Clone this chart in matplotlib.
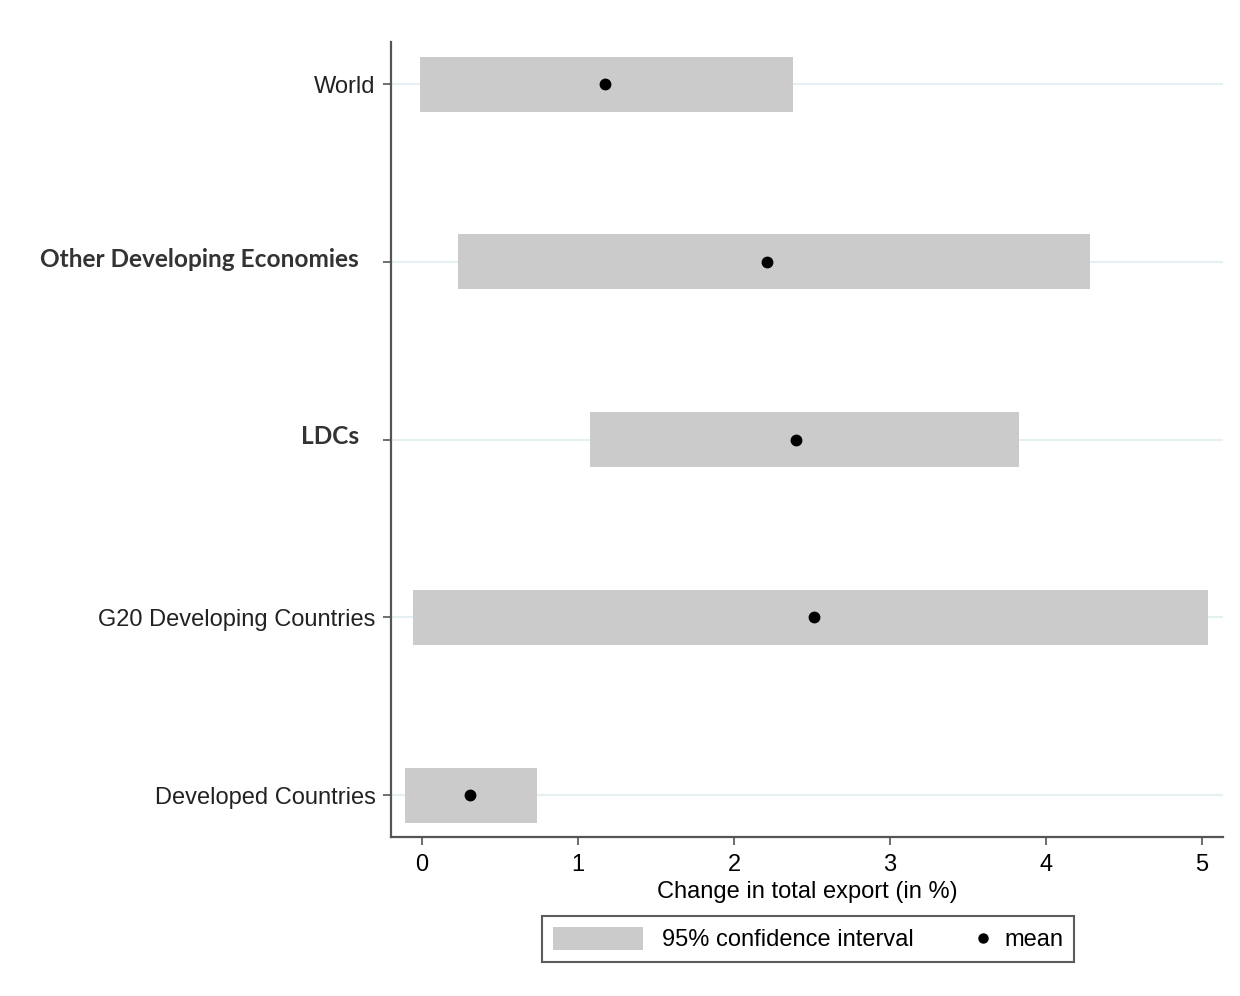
import matplotlib
matplotlib.use("Agg")
import matplotlib.pyplot as plt
from matplotlib.patches import Patch
from matplotlib.lines import Line2D
from matplotlib.legend_handler import HandlerLine2D

# DATA
groups = ["World", "Other Developing Economies", "LDCs",
          "G20 Developing Countries", "Developed Countries"]
ci_low = [-0.01, 0.23, 1.08, -0.06, -0.11]
ci_high = [2.38, 4.28, 3.83, 5.04, 0.74]
means = [1.17, 2.21, 2.40, 2.51, 0.31]
bold_groups = ["Other Developing Economies", "LDCs"]
xticks = [0, 1, 2, 3, 4, 5]

plt.rcParams['font.family'] = ['Liberation Sans', 'DejaVu Sans']

fig = plt.figure(figsize=(12.4, 9.96), dpi=100)
ax = fig.add_axes([0.3153, 0.1596, 0.671, 0.798])

ypos = list(range(len(groups)))
for y in ypos:
    ax.axhline(y, color="#e6f0f2", lw=1.5, zorder=0)

widths = [h - l for l, h in zip(ci_low, ci_high)]
ax.barh(ypos, widths, left=ci_low, height=0.31, color="#cbcbcb", zorder=2)
ax.plot(means, ypos, "o", color="black", markersize=7.5, zorder=3, linestyle="none")

ax.set_xlim(-0.199, 5.135)
ax.set_ylim(4.236, -0.236)

ax.spines["top"].set_visible(False)
ax.spines["right"].set_visible(False)
for s in ["left", "bottom"]:
    ax.spines[s].set_color("#555555")
    ax.spines[s].set_linewidth(1.6)

ax.set_xticks(xticks)
ax.set_xticklabels([str(t) for t in xticks], fontsize=17)
ax.tick_params(axis="x", length=6, width=1.2, color="#555555", pad=6)

ax.set_yticks(ypos)
labels = [g if g not in bold_groups else "" for g in groups]
ax.set_yticklabels(labels, fontsize=17, color="#222222")
ax.tick_params(axis="y", length=6, width=1.2, color="#555555", pad=5)

# bold labels pasted a bit away from the axis
for i, g in enumerate(groups):
    if g in bold_groups:
        ax.annotate(g, xy=(0, i), xycoords=("axes fraction", "data"),
                    xytext=(-23, 2), textcoords="offset points",
                    ha="right", va="center", fontsize=17.6, fontweight="bold",
                    family=["Lato", "DejaVu Sans"], color="#333333")

ax.set_xlabel("Change in total export (in %)", fontsize=17, labelpad=4)


class RightDot(HandlerLine2D):
    def create_artists(self, legend, orig_handle, xdescent, ydescent,
                       width, height, fontsize, trans):
        dot = Line2D([width - xdescent - 2], [height / 2 - ydescent], marker="o",
                     color="black", markersize=6.5, linestyle="none")
        dot.set_transform(trans)
        return [dot]


ci_handle = Patch(facecolor="#cbcbcb", edgecolor="none")
mean_handle = Line2D([], [], marker="o", color="black", linestyle="none")
leg = fig.legend([ci_handle, mean_handle], ["95% confidence interval", "mean"],
                 loc="center", bbox_to_anchor=(0.652, 0.0572), ncol=2,
                 fontsize=17, frameon=True, fancybox=False, edgecolor="#333333",
                 handlelength=3.81, handleheight=1.1, handletextpad=0.8,
                 columnspacing=-0.75, borderpad=0.45, borderaxespad=0,
                 handler_map={mean_handle: RightDot()})
leg.get_frame().set_linewidth(1.5)

plt.savefig("out.png", dpi=100)
